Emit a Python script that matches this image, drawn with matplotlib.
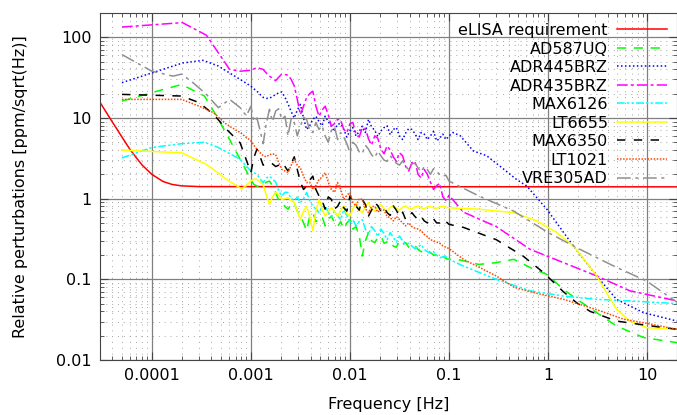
import matplotlib
matplotlib.use("Agg")
import matplotlib.pyplot as plt
from matplotlib.ticker import LogLocator, FuncFormatter, NullFormatter
import numpy as np

# frequency grid [Hz] shared by the noisy middle part of every spectrum
f_mid = [0.001, 0.00107, 0.00115, 0.00124, 0.00133, 0.00143, 0.00154, 0.00165,
         0.00178, 0.00191, 0.00205, 0.00221, 0.00237, 0.00255, 0.00274, 0.00294,
         0.00316, 0.0034, 0.00365, 0.00392, 0.00422, 0.00453, 0.00487, 0.00523,
         0.00562, 0.00604, 0.00649, 0.00698, 0.0075, 0.00806, 0.00866, 0.00931,
         0.01, 0.0107, 0.0115, 0.0124, 0.0133, 0.0143, 0.0154, 0.0165,
         0.0178, 0.0191, 0.0205, 0.0221, 0.0237, 0.0255, 0.0274, 0.0294,
         0.0316, 0.034, 0.0365, 0.0392, 0.0422, 0.0453, 0.0487, 0.0523,
         0.0562, 0.0604, 0.0649, 0.0698, 0.075, 0.0806, 0.0866, 0.0931, 0.1]

# eLISA requirement
elisa_f = [3e-5, 4e-5, 5e-5, 6e-5, 7e-5, 8e-5, 1e-4, 1.3e-4, 1.6e-4, 2e-4, 3e-4, 20]
elisa_v = [15.6, 8.9, 5.8, 4.1, 3.2, 2.6, 2.0, 1.63, 1.5, 1.44, 1.41, 1.4]

# AD587UQ
ad587_f_lo = [5e-5, 1e-4, 2e-4, 3.4e-4, 4.5e-4, 6.1e-4, 7.8e-4]
ad587_v_lo = [16.2, 20.6, 26, 18.7, 10.6, 5.4, 3.07]
ad587_v_mid = [1.73, 1.5, 1.43, 1.4, 1.5, 1.6, 1.65, 1.45, 1.19, 0.95, 0.89, 0.8,
               0.74, 0.85, 0.89, 0.7, 0.62, 0.5, 0.40, 0.6, 0.67, 0.52, 0.55, 0.6,
               0.46, 0.55, 0.61, 0.5, 0.45, 0.52, 0.42, 0.5, 0.55, 0.42, 0.45, 0.35,
               0.194, 0.3, 0.38, 0.3, 0.285, 0.33, 0.345, 0.28, 0.29, 0.3, 0.258,
               0.25, 0.3, 0.27, 0.285, 0.25, 0.24, 0.26, 0.235, 0.22, 0.22, 0.23,
               0.215, 0.2, 0.2, 0.21, 0.194, 0.18, 0.177]
ad587_f_hi = [0.12, 0.2, 0.3, 0.45, 0.66, 0.97, 1.43, 1.95, 3.1, 4.9, 9.2, 20]
ad587_v_hi = [0.177, 0.153, 0.161, 0.177, 0.14, 0.115, 0.075, 0.0565, 0.0386,
              0.0264, 0.019, 0.0164]

# ADR445BRZ
adr445_f_lo = [5e-5, 2.04e-4, 3.3e-4, 4.7e-4, 7.8e-4]
adr445_v_lo = [27.4, 48, 51.8, 44, 30]
adr445_v_mid = [24.8, 23, 21.5, 19.5, 18, 17.5, 17.5, 18.5, 19.5, 20.5, 21, 18,
                15, 12, 10, 12.5, 14.7, 10, 7.2, 8, 9.6, 10.5, 9.0, 8.0, 10.5,
                9.0, 7.9, 6.8, 8.4, 8.5, 7.2, 5.8, 7.0, 7.6, 6.0, 6.8, 7.9, 6.6,
                9.6, 7.8, 7.0, 5.9, 6.9, 7.6, 8.0, 6.2, 7.2, 7.6, 6.0, 5.4, 6.5,
                7.4, 7.2, 6.4, 5.4, 6.6, 6.3, 5.4, 6.0, 6.8, 5.2, 5.6, 6.3, 5.4, 6.0]
adr445_f_hi = [0.11, 0.13, 0.176, 0.24, 0.33, 0.48, 0.61, 0.97, 1.8, 3.1, 4.9, 9.2, 20]
adr445_v_hi = [6.6, 6.0, 3.9, 3.4, 2.5, 1.73, 1.43, 0.74, 0.259, 0.11, 0.0565,
               0.0386, 0.0304]

# ADR435BRZ
adr435_f_lo = [5e-5, 2.04e-4, 3.56e-4, 6.1e-4, 7.8e-4]
adr435_v_lo = [134, 152, 106, 40, 38]
adr435_v_mid = [39, 40.5, 42, 41, 40, 36, 33, 31, 29, 32, 35, 34.5, 34, 30, 25,
                17, 11, 14, 17.9, 20, 21.5, 14, 10.5, 12.5, 14, 11, 7.9, 8.5,
                9.6, 9.5, 7.2, 6.6, 8.5, 8.8, 6.3, 5.8, 7.5, 7.4, 5.5, 4.6, 6.0,
                5.6, 4.1, 3.6, 4.5, 4.0, 3.3, 2.9, 3.7, 3.4, 2.5, 2.2, 2.8, 2.9,
                2.0, 1.8, 2.3, 2.0, 1.6, 1.3, 1.45, 1.55, 1.05, 0.95, 1.1]
adr435_f_hi = [0.14, 0.3, 0.66, 1.43, 3.1, 6.7, 20]
adr435_v_hi = [0.68, 0.45, 0.235, 0.161, 0.11, 0.072, 0.054]

# MAX6126
max6126_f_lo = [5e-5, 1e-4, 2e-4, 3.4e-4, 4.7e-4, 7.8e-4]
max6126_v_lo = [3.2, 4.3, 4.8, 5.0, 4.3, 3.07]
max6126_v_mid = [2.2, 2.1, 2.0, 1.75, 1.58, 1.8, 1.9, 1.75, 1.6, 1.25, 1.08, 1.2,
                 1.19, 1.0, 0.95, 1.05, 0.89, 1.0, 1.19, 0.95, 0.8, 0.75, 0.67,
                 0.78, 0.81, 0.68, 0.6, 0.7, 0.61, 0.55, 0.73, 0.62, 0.5, 0.55,
                 0.46, 0.52, 0.55, 0.42, 0.36, 0.45, 0.40, 0.34, 0.42, 0.37, 0.31,
                 0.38, 0.33, 0.29, 0.345, 0.3, 0.27, 0.28, 0.258, 0.24, 0.25, 0.27,
                 0.235, 0.22, 0.21, 0.22, 0.2, 0.185, 0.19, 0.19, 0.177]
max6126_f_hi = [0.14, 0.3, 0.66, 1.43, 3.1, 6.7, 20]
max6126_v_hi = [0.146, 0.1, 0.072, 0.062, 0.0565, 0.054, 0.05]

# LT6655
lt6655_f_lo = [5e-5, 2e-4, 3.56e-4, 5.7e-4, 8e-4, 9e-4]
lt6655_v_lo = [4.0, 3.7, 2.66, 1.73, 1.33, 1.45]
lt6655_v_mid = [1.65, 1.75, 1.73, 1.6, 1.5, 1.1, 0.85, 1.05, 1.2, 1.1, 0.98, 1.0,
                1.03, 0.95, 0.9, 0.7, 0.55, 0.7, 0.81, 0.6, 0.4, 0.7, 0.98, 0.75,
                0.61, 0.7, 0.77, 0.7, 0.6, 0.72, 0.81, 0.65, 0.61, 0.75, 0.89,
                0.72, 0.67, 0.8, 0.89, 0.75, 0.70, 0.8, 0.85, 0.75, 0.7, 0.78,
                0.82, 0.76, 0.72, 0.78, 0.81, 0.76, 0.74, 0.79, 0.81, 0.77, 0.75,
                0.79, 0.8, 0.77, 0.76, 0.79, 0.8, 0.78, 0.77]
lt6655_f_hi = [0.2, 0.45, 0.77, 1.22, 1.8, 2.45, 3.1, 3.9, 4.9, 6.7, 9.9, 20]
lt6655_v_hi = [0.74, 0.67, 0.53, 0.38, 0.259, 0.161, 0.11, 0.068, 0.0425,
               0.0304, 0.0252, 0.024]

# MAX6350
max6350_f_lo = [5e-5, 2e-4, 3e-4, 4.2e-4, 5.7e-4, 7.8e-4]
max6350_v_lo = [19.6, 18.7, 15.5, 11.1, 7.2, 4.9]
max6350_v_mid = [2.1, 3.2, 4.1, 3.3, 2.6, 2.7, 2.8, 2.7, 2.5, 2.6, 2.8, 2.5, 2.2,
                 2.7, 3.3, 2.3, 1.6, 1.3, 1.43, 1.7, 1.9, 1.3, 1.08, 0.95, 0.74,
                 1.05, 0.98, 0.75, 0.8, 0.95, 0.77, 0.7, 1.08, 0.9, 0.81, 0.72,
                 0.98, 0.85, 0.61, 0.72, 0.89, 0.82, 0.70, 0.78, 0.67, 0.62, 0.81,
                 0.72, 0.6, 0.68, 0.55, 0.6, 0.67, 0.6, 0.55, 0.6, 0.53, 0.5,
                 0.58, 0.56, 0.5, 0.5, 0.55, 0.52, 0.48]
max6350_f_hi = [0.14, 0.3, 0.56, 0.9, 1.43, 1.95, 2.66, 4.9, 9.9, 20]
max6350_v_hi = [0.44, 0.31, 0.194, 0.121, 0.07, 0.051, 0.04, 0.0304, 0.0269, 0.024]

# LT1021
lt1021_f_lo = [5e-5, 2e-4, 3e-4, 4.2e-4, 5.7e-4, 7.8e-4]
lt1021_v_lo = [17, 17, 14, 11.6, 8.3, 6.6]
lt1021_v_mid = [5.2, 4.6, 4.1, 3.7, 3.4, 3.3, 3.5, 3.6, 3.5, 2.8, 2.3, 2.2, 2.1,
                2.6, 3.07, 2.6, 2.4, 1.9, 1.58, 1.6, 1.3, 1.45, 1.73, 1.85, 2.1,
                1.6, 1.3, 1.2, 1.58, 1.3, 0.98, 1.1, 1.19, 0.9, 0.81, 1.0, 0.98,
                0.75, 0.67, 0.8, 0.8, 0.68, 0.74, 0.72, 0.6, 0.58, 0.53, 0.6,
                0.55, 0.5, 0.46, 0.5, 0.45, 0.43, 0.42, 0.4, 0.36, 0.34, 0.31,
                0.3, 0.29, 0.28, 0.26, 0.25, 0.24]
lt1021_f_hi = [0.14, 0.3, 0.45, 0.66, 1.43, 3.1, 5.8, 9.9, 20]
lt1021_v_hi = [0.177, 0.11, 0.08, 0.07, 0.0565, 0.042, 0.032, 0.0285, 0.024]

# VRE305AD
vre305_f_lo = [5e-5, 1e-4, 1.64e-4, 2e-4, 2.6e-4, 3.56e-4, 4.7e-4, 6.1e-4, 7.8e-4, 9e-4]
vre305_v_lo = [61, 38, 33, 35, 27.4, 19.6, 13.4, 17, 13.4, 10.6]
vre305_v_mid = [14, 9.0, 10, 7.0, 4.8, 8.5, 12.8, 9.0, 12.2, 13, 9.6, 10.5, 6.0,
                9.8, 8.8, 6.0, 7.9, 10.2, 9.6, 7.0, 6.6, 8.8, 7.2, 8.0, 6.0, 5.0,
                7.0, 7.8, 5.4, 6.6, 5.8, 4.8, 3.7, 5.0, 4.6, 3.8, 3.6, 4.6, 4.1,
                3.5, 3.2, 3.9, 3.4, 3.0, 2.9, 3.4, 3.07, 2.75, 2.6, 2.95, 2.5,
                2.3, 2.7, 2.75, 2.4, 2.15, 2.5, 2.3, 2.0, 2.35, 2.2, 1.95, 1.9,
                1.95, 1.65]
vre305_f_hi = [0.2, 0.45, 1, 2.1, 4.6, 9.9, 20]
vre305_v_hi = [1.08, 0.70, 0.38, 0.235, 0.146, 0.095, 0.052]


def join(f_lo, v_lo, v_mid, f_hi, v_hi):
    return np.array(f_lo + f_mid + f_hi), np.array(v_lo + v_mid + v_hi)


series = [
    ("AD587UQ", join(ad587_f_lo, ad587_v_lo, ad587_v_mid, ad587_f_hi, ad587_v_hi),
     "#00ff00", (0, (6, 5))),
    ("ADR445BRZ", join(adr445_f_lo, adr445_v_lo, adr445_v_mid, adr445_f_hi, adr445_v_hi),
     "#0000ff", (0, (1, 1.6))),
    ("ADR435BRZ", join(adr435_f_lo, adr435_v_lo, adr435_v_mid, adr435_f_hi, adr435_v_hi),
     "#ff00ff", (0, (7, 2, 2, 2))),
    ("MAX6126", join(max6126_f_lo, max6126_v_lo, max6126_v_mid, max6126_f_hi, max6126_v_hi),
     "#00ffff", (0, (5, 1.5, 1.5, 1.5, 1.5, 1.5))),
    ("LT6655", join(lt6655_f_lo, lt6655_v_lo, lt6655_v_mid, lt6655_f_hi, lt6655_v_hi),
     "#ffff00", "-"),
    ("MAX6350", join(max6350_f_lo, max6350_v_lo, max6350_v_mid, max6350_f_hi, max6350_v_hi),
     "#000000", (0, (5.5, 5.5))),
    ("LT1021", join(lt1021_f_lo, lt1021_v_lo, lt1021_v_mid, lt1021_f_hi, lt1021_v_hi),
     "#ff4500", (0, (1, 1))),
    ("VRE305AD", join(vre305_f_lo, vre305_v_lo, vre305_v_mid, vre305_f_hi, vre305_v_hi),
     "#909090", (0, (9, 3, 2, 3))),
]

plt.rcParams['font.family'] = ['DejaVu Sans']
plt.rcParams['font.size'] = 11.5

fig = plt.figure(figsize=(6.77, 4.15), dpi=100)
ax = fig.add_axes([100 / 677, 55 / 415, 577 / 677, 347 / 415])

ax.plot(elisa_f, elisa_v, color="#ff0000", lw=1.1, label="eLISA requirement")
for name, (f, v), col, ls in series:
    ax.plot(f, v, color=col, lw=1.1, linestyle=ls, label=name)

ax.set_xscale("log")
ax.set_yscale("log")
ax.set_xlim(3e-5, 20)
ax.set_ylim(0.01, 200)

fmt = FuncFormatter(lambda v, p: "%g" % v)
ax.xaxis.set_major_locator(LogLocator(base=10, numticks=20))
ax.yaxis.set_major_locator(LogLocator(base=10, numticks=20))
ax.xaxis.set_minor_locator(LogLocator(base=10, subs=np.arange(2, 10), numticks=50))
ax.yaxis.set_minor_locator(LogLocator(base=10, subs=np.arange(2, 10), numticks=50))
ax.xaxis.set_major_formatter(fmt)
ax.yaxis.set_major_formatter(fmt)
ax.xaxis.set_minor_formatter(NullFormatter())
ax.yaxis.set_minor_formatter(NullFormatter())

ax.grid(True, which="major", color="#808080", lw=0.9, ls="-")
ax.grid(True, which="minor", color="#a8a8a8", lw=0.7, ls=(0, (1, 5)))
ax.set_axisbelow(True)
ax.tick_params(which="both", direction="in", top=True, right=True, colors="#444444",
               labelcolor="black", labelsize=11.5)
ax.tick_params(which="major", length=6, pad=6)
ax.tick_params(which="minor", length=3)
for s in ax.spines.values():
    s.set_color("#444444")

ax.set_xlabel("Frequency [Hz]", fontsize=11.5, labelpad=10)
ax.set_ylabel("Relative perturbations [ppm/sqrt(Hz)]", fontsize=11.5)
ax.yaxis.set_label_coords(-0.125, 0.5)

ax.legend(loc="upper right", bbox_to_anchor=(1 - 10 / 577, 1 - 10 / 347),
          frameon=False, markerfirst=False, fontsize=11.5, handlelength=3.1,
          handletextpad=0.6, labelspacing=0.22, borderpad=0, borderaxespad=0)

fig.savefig("out.png", dpi=100)
